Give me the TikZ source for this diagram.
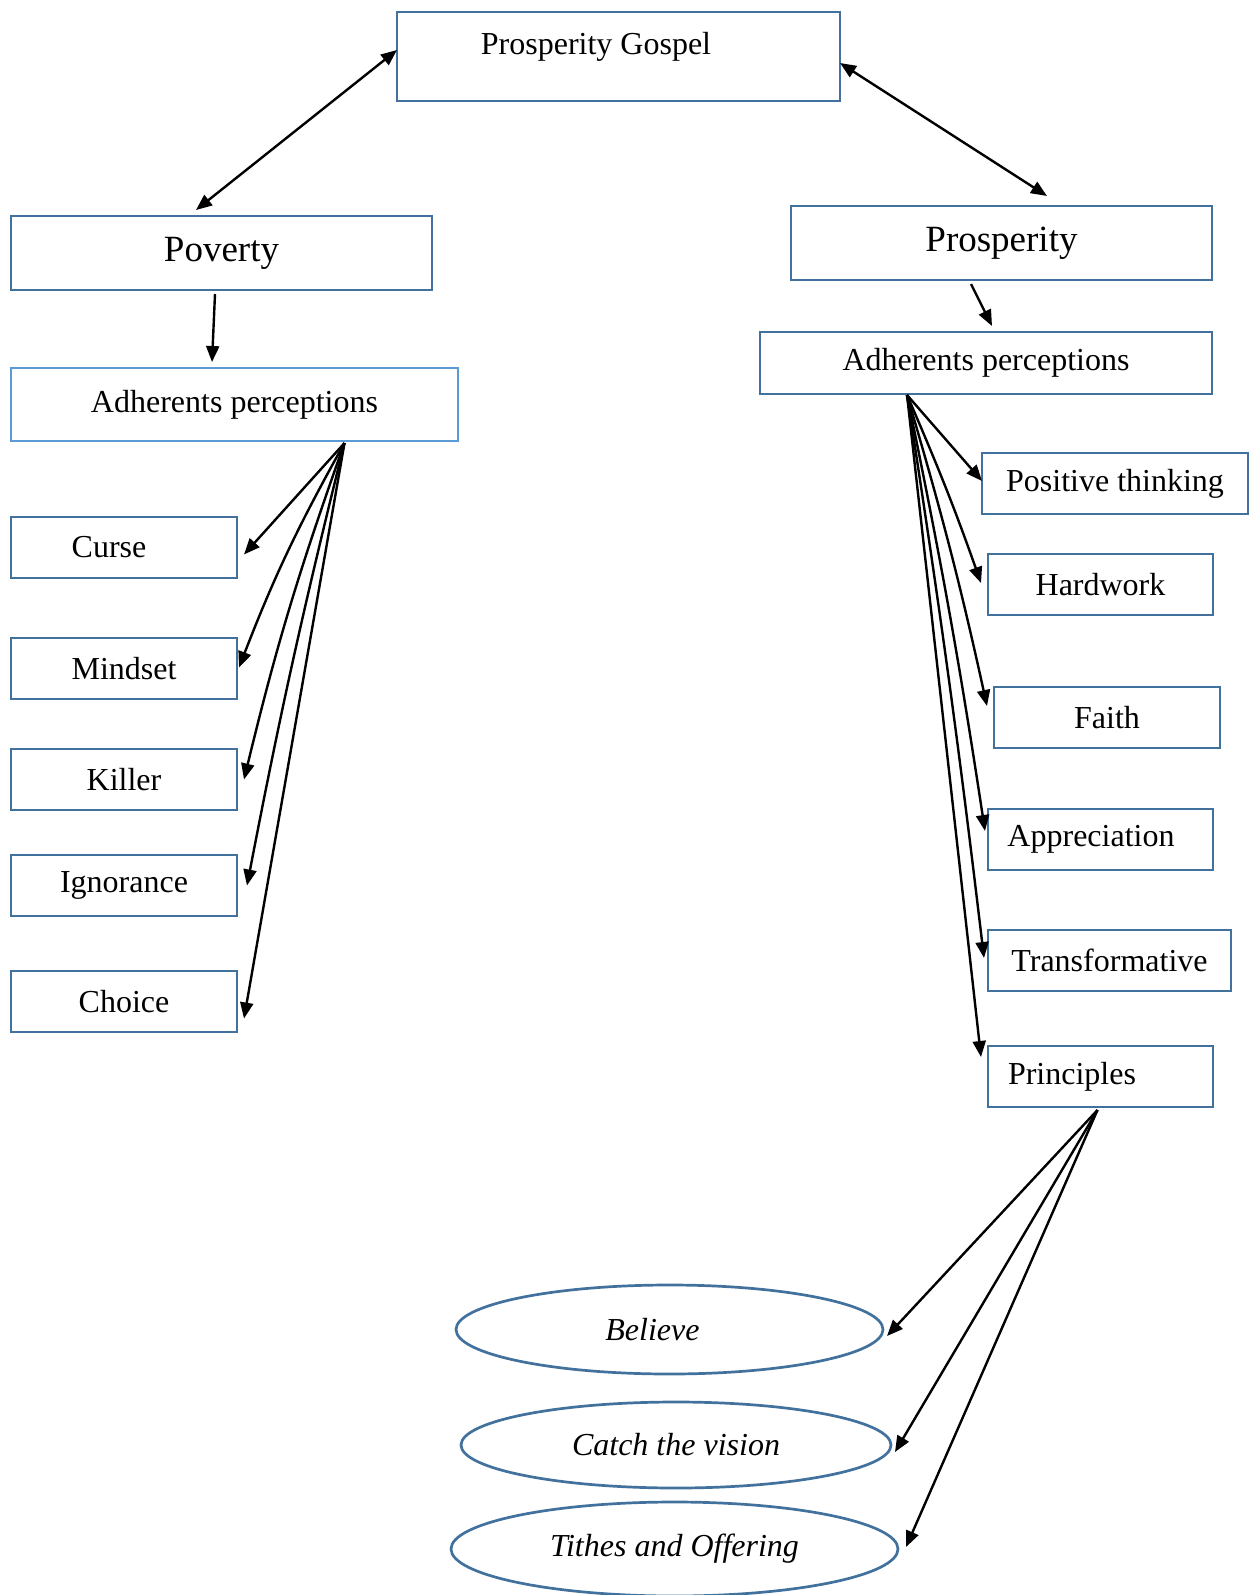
\documentclass[tikz,border=0pt]{standalone}
\usepackage{fontspec}
\setmainfont{Liberation Serif}
\usetikzlibrary{arrows.meta,shapes.geometric}
\definecolor{boxblue}{HTML}{41719C}
\definecolor{lightblue}{HTML}{5B9BD5}

\begin{document}
\begin{tikzpicture}[x=1pt,y=-1pt,
  box/.style={draw=boxblue, line width=2.7pt, rectangle, inner sep=0pt, outer sep=0pt, font=\fontsize{32}{38}\selectfont},
  bigbox/.style={box, minimum width=421pt, minimum height=74pt, font=\fontsize{37}{44}\selectfont},
  smallbox/.style={box, minimum width=226pt, minimum height=61pt},
  oval/.style={draw=boxblue, line width=2.7pt, ellipse, inner sep=0pt, outer sep=0pt, font=\fontsize{32}{38}\selectfont\itshape},
  arr/.style={line width=2.4pt, -{Triangle[length=16pt,width=13pt]}},
  both/.style={line width=2.4pt, {Triangle[length=16pt,width=13pt]}-{Triangle[length=16pt,width=13pt]}}]
\useasboundingbox (0,0) rectangle (1250,1595);

% top
\node[box, minimum width=443pt, minimum height=89pt, text height=42.5pt, text depth=46.5pt] (gospel) at (618.5,56.5) {Prosperity Gospel\hspace*{45pt}};
\node[bigbox] (poverty) at (221.5,253) {Poverty};
\node[bigbox] (prosp) at (1001.5,243) {Prosperity};
\node[box, draw=lightblue, minimum width=447pt, minimum height=73pt] (adhL) at (234.5,404.5) {Adherents perceptions};
\node[box, minimum width=452pt, minimum height=62pt] (adhR) at (986,363) {Adherents perceptions};

% poverty side
\node[smallbox] (curse) at (124,547.5) {Curse\hspace*{30pt}};
\node[smallbox] (mindset) at (124,668.5) {Mindset};
\node[smallbox] (killer) at (124,779.5) {Killer};
\node[smallbox] (ignorance) at (124,885.5) {Ignorance};
\node[smallbox] (choice) at (124,1001.5) {Choice};

% prosperity side
\node[smallbox, minimum width=266pt] (positive) at (1115,483.5) {Positive thinking};
\node[smallbox, minimum width=225pt] (hardwork) at (1100.5,584.5) {Hardwork};
\node[smallbox] (faith) at (1107,717.5) {Faith};
\node[smallbox, minimum width=225pt] (appreciation) at (1100.5,839.5) {Appreciation\hspace*{19pt}};
\node[smallbox, minimum width=243pt] (transformative) at (1109.5,960.5) {Transformative};
\node[smallbox, minimum width=225pt] (principles) at (1100.5,1076.5) {Principles\hspace*{57pt}};

% principles
\node[oval, minimum width=427pt, minimum height=89pt] (believe) at (669.5,1329.5) {Believe\hspace*{34pt}};
\node[oval, minimum width=430pt, minimum height=86pt] (catch) at (676,1445) {Catch the vision};
\node[oval, minimum width=447pt, minimum height=94pt] (tithes) at (674.5,1549) {Tithes and Offering};

\draw[both] ([yshift=6.5pt]gospel.west) -- ([xshift=-25.5pt,yshift=6pt]poverty.north);
\draw[both] ([yshift=-6.5pt]gospel.east) -- ([xshift=45.5pt,yshift=10pt]prosp.north);
\draw[arr] ([xshift=-6.5pt,yshift=-4pt]poverty.south) -- ([xshift=-22.5pt,yshift=6pt]adhL.north);
\draw[arr] ([xshift=-30.5pt,yshift=-4pt]prosp.south) -- ([xshift=6pt,yshift=6pt]adhR.north);

\coordinate (fanL) at ([xshift=110pt,yshift=-2pt]adhL.south);
\draw[arr] (fanL) -- ([xshift=7pt,yshift=-7pt]curse.east);
\draw[arr] (fanL) to[bend right=4] ([xshift=2pt,yshift=1pt]mindset.east);
\draw[arr] (fanL) to[bend right=3] ([xshift=7pt,yshift=0pt]killer.east);
\draw[arr] (fanL) to[bend right=1.5] ([xshift=10pt,yshift=0pt]ignorance.east);
\draw[arr] (fanL) -- ([xshift=7pt,yshift=-17pt]choice.east);

\coordinate (fanR) at ([xshift=-79pt,yshift=-1pt]adhR.south);
\draw[arr] (fanR) -- ([yshift=2.5pt]positive.west);
\draw[arr] (fanR) to[bend left=2] ([xshift=-7pt,yshift=1.5pt]hardwork.west);
\draw[arr] (fanR) to[bend left=2] ([xshift=-7pt,yshift=11.5pt]faith.west);
\draw[arr] (fanR) to[bend left=1.5] ([xshift=-3pt,yshift=8.5pt]appreciation.west);
\draw[arr] (fanR) to[bend left=1] ([xshift=-4pt,yshift=2.5pt]transformative.west);
\draw[arr] (fanR) -- ([xshift=-7pt,yshift=19.5pt]principles.west);

\coordinate (fanP) at ([xshift=-3pt,yshift=-3pt]principles.south);
\draw[arr] (fanP) -- ([xshift=4pt,yshift=-6.5pt]believe.east);
\draw[arr] (fanP) -- ([xshift=4pt,yshift=-7pt]catch.east);
\draw[arr] (fanP) -- ([xshift=8pt,yshift=2pt]tithes.east);
\end{tikzpicture}
\end{document}
